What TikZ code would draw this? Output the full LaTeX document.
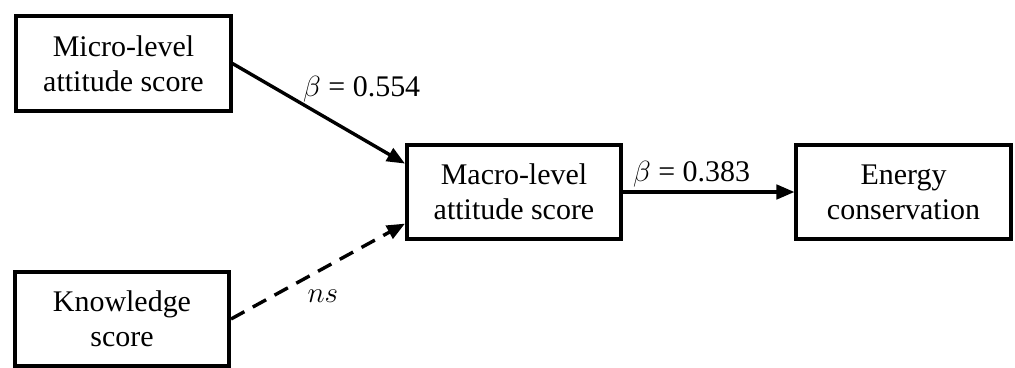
\documentclass[tikz,border=0pt]{standalone}
\usepackage{fontspec}
\setmainfont{Liberation Serif}
\usepackage{tikz}
\usetikzlibrary{arrows.meta,positioning}

\tikzset{
    scorebox/.style={
        draw,
        line width=0.1cm,
        inner sep=0pt,
        align=center,
        minimum width=5.35cm,
        minimum height=2.35cm,
        font=\fontsize{21.3}{24.9}\selectfont
    },
    patharrow/.style={
        line width=0.085cm,
        -{Triangle[length=0.45cm,width=0.36cm]}
    },
    coeff/.style={
        font=\fontsize{21.3}{24.9}\selectfont
    }
}

\begin{document}
\begin{tikzpicture}[x=0.025cm,y=-0.025cm]
                \useasboundingbox (0,0) rectangle (1015,368);

                % predictors
                \node[scorebox] (micro) at (123.5,63.5) {Micro-level\\attitude score};
                \node[scorebox] (knowledge) at (122,319) {Knowledge\\score};

                % mediator and outcome
                \node[scorebox] (macro) at (514,192) {Macro-level\\attitude score};
                \node[scorebox] (energy) at (903.5,192) {Energy\\conservation};

                \draw[patharrow]
                    (micro.east) -- node[coeff, pos=0.4, anchor=south west, inner sep=0pt] {$\beta$ = 0.554}
                    ([yshift=0.71cm]macro.west);

                \draw[
                    patharrow,
                    dash pattern=on 0.38cm off 0.24cm
                ] (knowledge.east) -- node[coeff, pos=0.5, xshift=0.12cm, yshift=-0.62cm] {$ns$}
                    ([yshift=-0.79cm]macro.west);

                \draw[patharrow]
                    (macro.east) -- node[coeff, pos=0.4, above, inner sep=2pt] {$\beta$ = 0.383}
                    (energy.west);

            \end{tikzpicture}
\end{document}
